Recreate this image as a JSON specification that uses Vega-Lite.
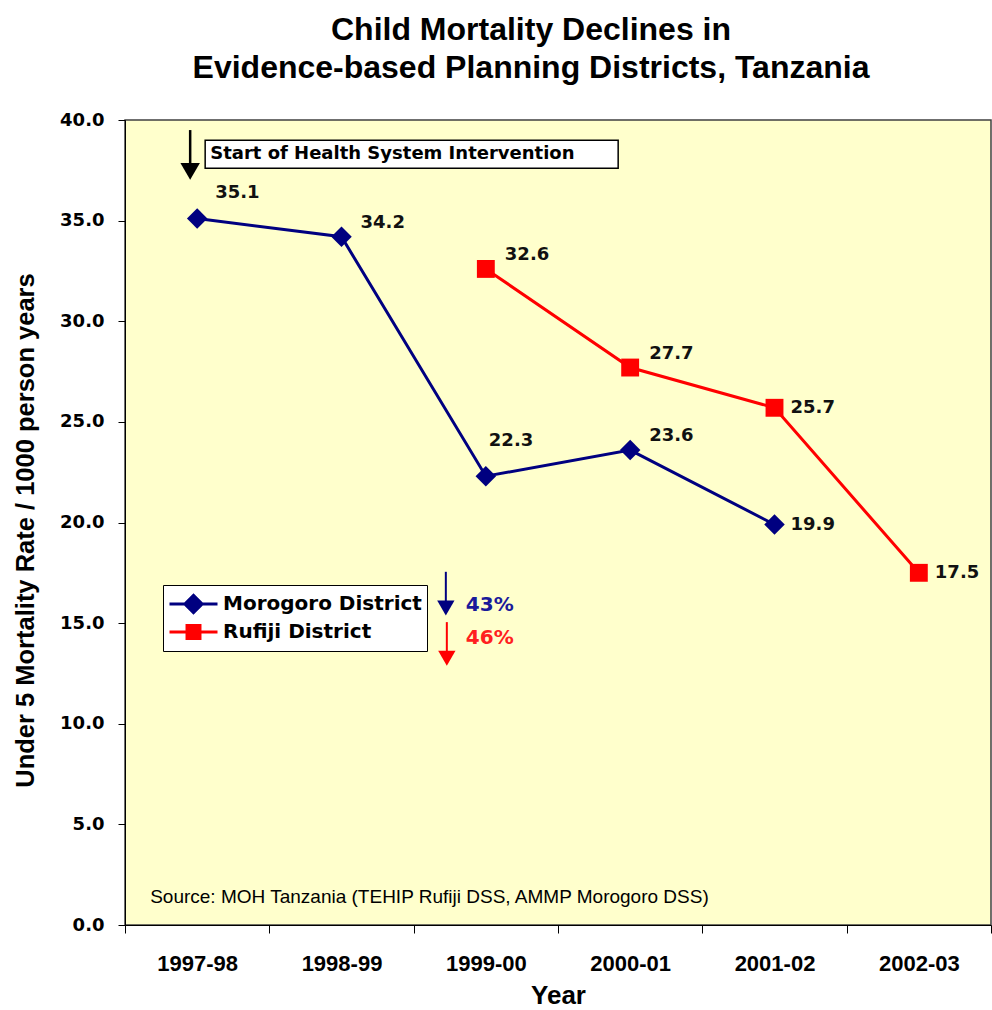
{
  "$schema": "https://vega.github.io/schema/vega-lite/v6.json",
  "width": 866,
  "height": 805,
  "autosize": {"type": "none"},
  "padding": {"left": 125, "top": 120, "right": 1, "bottom": 85},
  "background": "#FFFFFF",
  "config": {
    "view": {"fill": "#FFFFCC", "stroke": "#404040", "strokeWidth": 1.5}
  },
  "title": {
    "text": ["Child Mortality Declines in", "Evidence-based Planning Districts, Tanzania"],
    "font": "Liberation Sans",
    "fontSize": 32,
    "fontWeight": "bold",
    "lineHeight": 38,
    "anchor": "middle",
    "frame": "group",
    "dx": -27,
    "offset": 26,
    "color": "#000000"
  },
  "datasets": {
    "rates": [
      {"period": "1997-98", "district": "Morogoro District", "rate": 35.1},
      {"period": "1998-99", "district": "Morogoro District", "rate": 34.2},
      {"period": "1999-00", "district": "Morogoro District", "rate": 22.3},
      {"period": "2000-01", "district": "Morogoro District", "rate": 23.6},
      {"period": "2001-02", "district": "Morogoro District", "rate": 19.9},
      {"period": "1999-00", "district": "Rufiji District", "rate": 32.6},
      {"period": "2000-01", "district": "Rufiji District", "rate": 27.7},
      {"period": "2001-02", "district": "Rufiji District", "rate": 25.7},
      {"period": "2002-03", "district": "Rufiji District", "rate": 17.5}
    ],
    "notes": [
      {"note": "Start of Health System Intervention", "period": "1997-98"},
      {"note": "43%", "period": "1999-00"},
      {"note": "46%", "period": "1999-00"},
      {"note": "Source: MOH Tanzania (TEHIP Rufiji DSS,  AMMP Morogoro DSS)", "period": "1997-98"}
    ]
  },
  "layer": [
    {
      "data": {"name": "rates"},
      "mark": {"type": "line", "strokeWidth": 3},
      "encoding": {
        "x": {
          "field": "period",
          "type": "nominal",
          "scale": {
            "type": "band",
            "domain": ["1997-98", "1998-99", "1999-00", "2000-01", "2001-02", "2002-03"],
            "paddingInner": 0,
            "paddingOuter": 0
          },
          "axis": {
            "title": "Year",
            "labelAngle": 0,
            "tickBand": "extent",
            "tickSize": 8,
            "tickColor": "#000000",
            "domainColor": "#000000",
            "labelFont": "Liberation Sans",
            "labelFontWeight": "bold",
            "labelFontSize": 22,
            "labelColor": "#000000",
            "labelPadding": 20,
            "titleFont": "Liberation Sans",
            "titleFontSize": 26,
            "titleFontWeight": "bold",
            "titleColor": "#000000",
            "titlePadding": 8
          }
        },
        "y": {
          "field": "rate",
          "type": "quantitative",
          "scale": {"domain": [0, 40], "nice": false},
          "axis": {
            "values": [0, 5, 10, 15, 20, 25, 30, 35, 40],
            "format": ".1f",
            "title": "Under 5 Mortality Rate / 1000 person years",
            "grid": false,
            "tickSize": 7,
            "tickColor": "#000000",
            "domainColor": "#000000",
            "labelFont": "DejaVu Sans",
            "labelFontWeight": "bold",
            "labelFontSize": 18,
            "labelColor": "#000000",
            "labelPadding": 14,
            "titleFont": "Liberation Sans",
            "titleFontSize": 25.5,
            "titleFontWeight": "bold",
            "titleColor": "#000000",
            "titleX": -100,
            "titleY": 410,
            "titleAlign": "center",
            "titleBaseline": "middle"
          }
        },
        "color": {
          "field": "district",
          "type": "nominal",
          "scale": {"domain": ["Morogoro District", "Rufiji District"], "range": ["#000080", "#FF0000"]},
          "legend": {
            "title": null,
            "orient": "none",
            "legendX": 38,
            "legendY": 465,
            "fillColor": "#FFFFFF",
            "strokeColor": "#000000",
            "padding": 5,
            "symbolSize": 2304,
            "clipHeight": 28,
            "rowPadding": 0,
            "labelOffset": 4,
            "symbolOffset": 0,
            "labelFont": "DejaVu Sans",
            "labelFontWeight": "bold",
            "labelFontSize": 20,
            "labelColor": "#000000",
            "labelLimit": 300,
            "encode": {
              "symbols": {
                "update": {
                  "shape": {"signal": "datum.value === 'Morogoro District' ? 'M-1,0H1M-0.36,0L0,-0.36L0.36,0L0,0.36Z' : 'M-1,0H1M-0.27,-0.27H0.27V0.27H-0.27Z'"},
                  "fill": {"signal": "datum.value === 'Morogoro District' ? '#000080' : '#FF0000'"},
                  "stroke": {"signal": "datum.value === 'Morogoro District' ? '#000080' : '#FF0000'"},
                  "strokeWidth": {"value": 3},
                  "opacity": {"value": 1}
                }
              }
            }
          }
        }
      }
    },
    {
      "data": {"name": "rates"},
      "transform": [{"filter": "datum.district === 'Morogoro District'"}],
      "mark": {"type": "point", "shape": "diamond", "filled": true, "size": 420, "opacity": 1},
      "encoding": {
        "x": {"field": "period", "type": "nominal"},
        "y": {"field": "rate", "type": "quantitative"},
        "color": {"field": "district", "type": "nominal", "legend": null}
      }
    },
    {
      "data": {"name": "rates"},
      "transform": [{"filter": "datum.district === 'Rufiji District'"}],
      "mark": {"type": "point", "shape": "square", "filled": true, "size": 320, "opacity": 1},
      "encoding": {
        "x": {"field": "period", "type": "nominal"},
        "y": {"field": "rate", "type": "quantitative"},
        "color": {"field": "district", "type": "nominal", "legend": null}
      }
    },
    {
      "data": {"name": "rates"},
      "transform": [{"filter": "datum.period === '2001-02' || datum.period === '2002-03'"}],
      "mark": {"type": "text", "align": "left", "baseline": "middle", "dx": 16, "dy": 0, "fontSize": 18, "fontWeight": "bold", "font": "DejaVu Sans", "color": "#111111"},
      "encoding": {
        "x": {"field": "period", "type": "nominal"},
        "y": {"field": "rate", "type": "quantitative"},
        "text": {"field": "rate", "type": "quantitative", "format": ".1f"}
      }
    },
    {
      "data": {"name": "rates"},
      "transform": [{"filter": "(datum.district === 'Morogoro District' && (datum.period === '1998-99' || datum.period === '2000-01')) || (datum.district === 'Rufiji District' && (datum.period === '1999-00' || datum.period === '2000-01'))"}],
      "mark": {"type": "text", "align": "left", "baseline": "middle", "dx": 19, "dy": -14, "fontSize": 18, "fontWeight": "bold", "font": "DejaVu Sans", "color": "#111111"},
      "encoding": {
        "x": {"field": "period", "type": "nominal"},
        "y": {"field": "rate", "type": "quantitative"},
        "text": {"field": "rate", "type": "quantitative", "format": ".1f"}
      }
    },
    {
      "data": {"name": "rates"},
      "transform": [{"filter": "datum.district === 'Morogoro District' && datum.period === '1997-98'"}],
      "mark": {"type": "text", "align": "left", "baseline": "middle", "dx": 18, "dy": -26, "fontSize": 18, "fontWeight": "bold", "font": "DejaVu Sans", "color": "#111111"},
      "encoding": {
        "x": {"field": "period", "type": "nominal"},
        "y": {"field": "rate", "type": "quantitative"},
        "text": {"field": "rate", "type": "quantitative", "format": ".1f"}
      }
    },
    {
      "data": {"name": "rates"},
      "transform": [{"filter": "datum.district === 'Morogoro District' && datum.period === '1999-00'"}],
      "mark": {"type": "text", "align": "left", "baseline": "middle", "dx": 3, "dy": -35, "fontSize": 18, "fontWeight": "bold", "font": "DejaVu Sans", "color": "#111111"},
      "encoding": {
        "x": {"field": "period", "type": "nominal"},
        "y": {"field": "rate", "type": "quantitative"},
        "text": {"field": "rate", "type": "quantitative", "format": ".1f"}
      }
    },
    {
      "data": {"name": "notes"},
      "transform": [{"filter": "datum.note === 'Start of Health System Intervention'"}],
      "mark": {"type": "rect", "fill": "#FFFFFF", "stroke": "#000000", "strokeWidth": 1.5, "xOffset": 8, "x2Offset": -12},
      "encoding": {
        "x": {"datum": "1997-98", "bandPosition": 0.5},
        "x2": {"datum": "2000-01", "bandPosition": 0.5},
        "y": {"datum": 39.0},
        "y2": {"datum": 37.6}
      }
    },
    {
      "data": {"name": "notes"},
      "transform": [{"filter": "datum.note === 'Start of Health System Intervention'"}],
      "mark": {"type": "text", "align": "left", "baseline": "middle", "dx": 13, "fontSize": 18, "fontWeight": "bold", "font": "DejaVu Sans", "color": "#000000"},
      "encoding": {
        "x": {"field": "period", "type": "nominal"},
        "y": {"datum": 38.3},
        "text": {"field": "note", "type": "nominal"}
      }
    },
    {
      "data": {"name": "notes"},
      "transform": [{"filter": "datum.note === 'Start of Health System Intervention'"}],
      "mark": {"type": "rule", "color": "#000000", "strokeWidth": 2.5, "xOffset": -7},
      "encoding": {
        "x": {"field": "period", "type": "nominal"},
        "y": {"datum": 39.5},
        "y2": {"datum": 37.8}
      }
    },
    {
      "data": {"name": "notes"},
      "transform": [{"filter": "datum.note === 'Start of Health System Intervention'"}],
      "mark": {"type": "point", "shape": "triangle-down", "filled": true, "color": "#000000", "opacity": 1, "size": 380, "xOffset": -7},
      "encoding": {
        "x": {"field": "period", "type": "nominal"},
        "y": {"datum": 37.45}
      }
    },
    {
      "data": {"name": "notes"},
      "transform": [{"filter": "datum.note === '43%'"}],
      "mark": {"type": "rule", "color": "#000080", "strokeWidth": 2, "xOffset": -40},
      "encoding": {
        "x": {"field": "period", "type": "nominal"},
        "y": {"datum": 17.55},
        "y2": {"datum": 16.0}
      }
    },
    {
      "data": {"name": "notes"},
      "transform": [{"filter": "datum.note === '43%'"}],
      "mark": {"type": "point", "shape": "triangle-down", "filled": true, "color": "#000080", "opacity": 1, "size": 300, "xOffset": -40},
      "encoding": {
        "x": {"field": "period", "type": "nominal"},
        "y": {"datum": 15.75}
      }
    },
    {
      "data": {"name": "notes"},
      "transform": [{"filter": "datum.note === '46%'"}],
      "mark": {"type": "rule", "color": "#FF0000", "strokeWidth": 2, "xOffset": -39},
      "encoding": {
        "x": {"field": "period", "type": "nominal"},
        "y": {"datum": 15.05},
        "y2": {"datum": 13.5}
      }
    },
    {
      "data": {"name": "notes"},
      "transform": [{"filter": "datum.note === '46%'"}],
      "mark": {"type": "point", "shape": "triangle-down", "filled": true, "color": "#FF0000", "opacity": 1, "size": 300, "xOffset": -39},
      "encoding": {
        "x": {"field": "period", "type": "nominal"},
        "y": {"datum": 13.25}
      }
    },
    {
      "data": {"name": "notes"},
      "transform": [{"filter": "datum.note === '43%'"}],
      "mark": {"type": "text", "align": "left", "baseline": "middle", "dx": -20, "fontSize": 20, "fontWeight": "bold", "font": "DejaVu Sans", "color": "#1A1A9A"},
      "encoding": {
        "x": {"field": "period", "type": "nominal"},
        "y": {"datum": 15.9},
        "text": {"field": "note", "type": "nominal"}
      }
    },
    {
      "data": {"name": "notes"},
      "transform": [{"filter": "datum.note === '46%'"}],
      "mark": {"type": "text", "align": "left", "baseline": "middle", "dx": -20, "fontSize": 20, "fontWeight": "bold", "font": "DejaVu Sans", "color": "#FF2020"},
      "encoding": {
        "x": {"field": "period", "type": "nominal"},
        "y": {"datum": 14.26},
        "text": {"field": "note", "type": "nominal"}
      }
    },
    {
      "data": {"name": "notes"},
      "transform": [{"filter": "datum.note === 'Source: MOH Tanzania (TEHIP Rufiji DSS,  AMMP Morogoro DSS)'"}],
      "mark": {"type": "text", "align": "left", "baseline": "middle", "dx": -47, "fontSize": 19, "font": "Liberation Sans", "color": "#000000"},
      "encoding": {
        "x": {"field": "period", "type": "nominal"},
        "y": {"datum": 1.4},
        "text": {"field": "note", "type": "nominal"}
      }
    }
  ]
}
